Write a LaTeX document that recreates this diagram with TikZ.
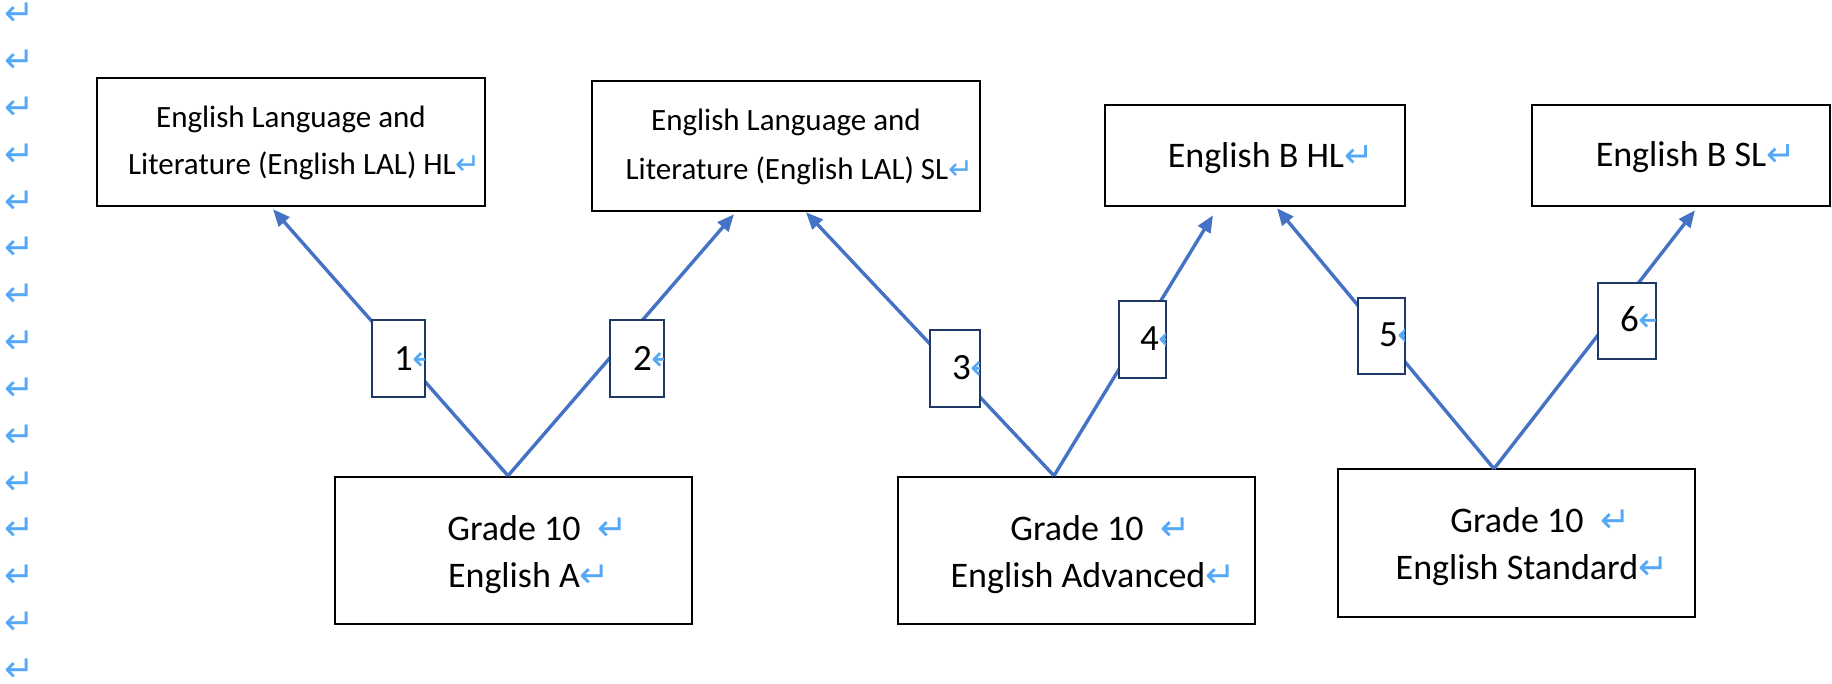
\documentclass[tikz,border=0pt]{standalone}
\usepackage{fontspec}
\setmainfont{Carlito}
\newfontfamily\dvs{DejaVu Sans}
\usetikzlibrary{arrows.meta}
\definecolor{lineblue}{RGB}{68,114,196}
\definecolor{navy}{RGB}{31,56,100}
\definecolor{pm}{RGB}{84,168,246}
\newcommand\ret[1]{{\color{pm}\dvs\fontsize{#1}{#1}\selectfont ↵}}
\begin{document}
\begin{tikzpicture}[x=1pt,y=-1pt,
  box/.style={draw=black,line width=2.5pt,inner sep=0pt},
  lab/.style={draw=navy,line width=2.2pt,fill=white,inner sep=0pt},
  txtS/.style={inner sep=0pt,anchor=base,font=\fontsize{31}{31}\selectfont},
  txtL/.style={inner sep=0pt,anchor=base,font=\fontsize{36}{36}\selectfont},
  digit/.style={inner sep=0pt,anchor=base west,font=\fontsize{37}{37}\selectfont},
  conn/.style={draw=lineblue,line width=3.4pt},
  arr/.style={conn,-{Triangle[length=17pt,width=14pt]}},
  marg/.style={inner sep=0pt,anchor=center,text height=22pt,text depth=-10pt}
]
\useasboundingbox[fill=white] (0,0) rectangle (1832,684);

% margin paragraph marks
\foreach \k in {0,...,14}
  \node[marg] (m\k) at (20,{15+46.8*\k}) {\ret{36}};

% top boxes
\node[box,minimum width=388pt,minimum height=128pt] (bA) at (291,142) {};
\node[txtS] (bA1) at (291,128) {English Language and};
\node[txtS] (bA2) at (292,175) {Literature (English LAL) HL\rlap{\ret{30}}};

\node[box,minimum width=388pt,minimum height=130pt] (bB) at (786,146) {};
\node[txtS] (bB1) at (786,131) {English Language and};
\node[txtS] (bB2) at (787,180) {Literature (English LAL) SL\rlap{\ret{30}}};

\node[box,minimum width=300pt,minimum height=101pt] (bC) at (1255,155.5) {};
\node[txtL] (bC1) at (1256,168) {English B HL\rlap{\ret{35}}};

\node[box,minimum width=298pt,minimum height=101pt] (bD) at (1681,155.5) {};
\node[txtL] (bD1) at (1681,167) {English B SL\rlap{\ret{35}}};

% bottom boxes
\node[box,minimum width=357pt,minimum height=147pt] (gA) at (513.5,550.5) {};
\node[txtL] (gA1) at (514,540) {Grade 10\rlap{\hspace{17pt}\ret{36}}};
\node[txtL] (gA2) at (514,587) {English A\rlap{\ret{36}}};

\node[box,minimum width=357pt,minimum height=147pt] (gV) at (1076.5,550.5) {};
\node[txtL] (gV1) at (1077,540) {Grade 10\rlap{\hspace{17pt}\ret{36}}};
\node[txtL] (gV2) at (1078,587) {English Advanced\rlap{\ret{36}}};

\node[box,minimum width=357pt,minimum height=148pt] (gS) at (1516.5,543) {};
\node[txtL] (gS1) at (1517,532) {Grade 10\rlap{\hspace{17pt}\ret{36}}};
\node[txtL] (gS2) at (1517,579) {English Standard\rlap{\ret{36}}};

% connector end points
\coordinate (apA) at ([xshift=-5.5pt]gA.north);
\coordinate (apV) at ([xshift=-22.5pt]gV.north);
\coordinate (apS) at ([xshift=-22.5pt,yshift=-1pt]gS.north);
\coordinate (t1) at ([xshift=-18pt,yshift=-2pt]bA.south);
\coordinate (t2) at ([xshift=-52pt,yshift=-2pt]bB.south);
\coordinate (t3) at ([xshift=20pt]bB.south);
\coordinate (t4) at ([xshift=-42pt,yshift=-8pt]bC.south);
\coordinate (t5) at ([xshift=22pt,yshift=-1pt]bC.south);
\coordinate (t6) at ([xshift=14pt,yshift=-3pt]bD.south);

% connectors
\draw[arr] (apA) -- (t1);
\draw[arr] (apA) -- (t2);
\draw[arr] (apV) -- (t3);
\draw[arr] (apV) -- (t4);
\draw[arr] (apS) -- (t5);
\draw[arr] (apS) -- (t6);

% number labels
\node[lab,minimum width=53pt,minimum height=77pt] (l1) at (398.5,358.5) {};
\node[lab,minimum width=54pt,minimum height=77pt] (l2) at (637,358.5) {};
\node[lab,minimum width=50pt,minimum height=77pt] (l3) at (955,368.5) {};
\node[lab,minimum width=47pt,minimum height=77pt] (l4) at (1142.5,339.5) {};
\node[lab,minimum width=47pt,minimum height=76pt] (l5) at (1381.5,336) {};
\node[lab,minimum width=58pt,minimum height=76pt] (l6) at (1627,321) {};

\foreach \l/\d/\x/\y in {l1/1/394/371, l2/2/633/371, l3/3/952/380, l4/4/1140/351, l5/5/1379/347, l6/6/1620/332} {
  \begin{scope}
    \clip ([xshift=1.5pt,yshift=1.5pt]\l.south west) rectangle ([xshift=-1.5pt,yshift=-1.5pt]\l.north east);
    \node[digit] (\l t) at (\x,\y) {\d\ret{34}};
  \end{scope}
}
\end{tikzpicture}
\end{document}
